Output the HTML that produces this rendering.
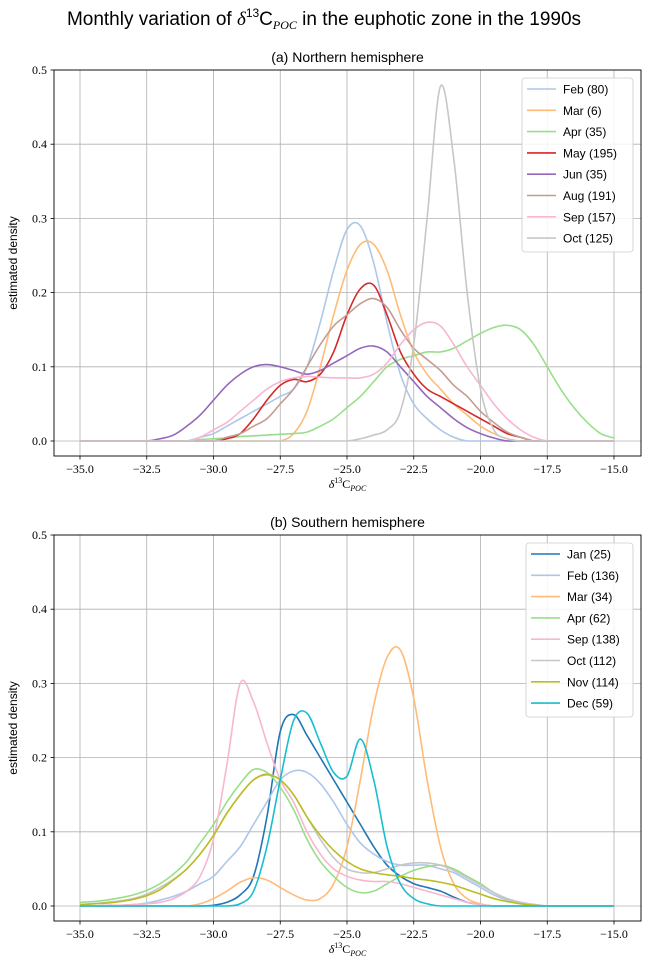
<!DOCTYPE html>
<html><head><meta charset="utf-8"><style>
body{margin:0;background:#fff;}
svg{display:block;}
.t{font-family:"Liberation Serif",serif;font-size:12px;fill:#000;}
.s{font-family:"Liberation Sans",sans-serif;fill:#000;}
</style></head><body>
<svg id="fig" width="648" height="965" xmlns="http://www.w3.org/2000/svg">
<text class="s" x="324" y="25" font-size="19" text-anchor="middle">Monthly variation of <tspan font-style="italic" font-family="Liberation Serif">δ</tspan><tspan font-size="12" dy="-8">13</tspan><tspan dy="8">C</tspan><tspan font-size="12" dy="4" font-style="italic" font-family="Liberation Serif">POC</tspan><tspan dy="-4"> in the euphotic zone in the 1990s</tspan></text>
</svg>
<script>
const xs = [];
for (let i = 0; i <= 40; i++) xs.push(-35 + 0.5 * i);
const xTicks = [-35, -32.5, -30, -27.5, -25, -22.5, -20, -17.5, -15];
const yTicks = [0, 0.1, 0.2, 0.3, 0.4, 0.5];

const nLabels = ["Feb (80)","Mar (6)","Apr (35)","May (195)","Jun (35)","Aug (191)","Sep (157)","Oct (125)"];
const nColors = ["#aec7e8","#ffbb78","#98df8a","#d62728","#9467bd","#c49c94","#f7b6d2","#c7c7c7"];
const nFeb = [0,0,0,0,0,0,0,0,0,.005,.01,.02,.03,.04,.05,.06,.07,.10,.16,.23,.285,.29,.24,.16,.09,.05,.03,.015,.005,0,0,0,0,0,0,0,0,0,0,0,0];
const nMar = [0,0,0,0,0,0,0,0,0,0,0,0,0,0,0,0,.01,.04,.10,.17,.23,.265,.265,.23,.17,.12,.09,.07,.05,.035,.02,.01,.003,0,0,0,0,0,0,0,0];
const nApr = [0,0,0,0,0,0,0,0,0,.002,.003,.004,.006,.007,.008,.009,.01,.012,.02,.03,.045,.06,.08,.10,.11,.115,.12,.12,.125,.135,.145,.153,.156,.15,.13,.10,.07,.045,.025,.01,.004];
const nMay = [0,0,0,0,0,0,0,0,0,0,0,.003,.01,.03,.055,.075,.083,.08,.09,.12,.17,.205,.21,.17,.12,.09,.07,.06,.05,.04,.03,.02,.01,.005,0,0,0,0,0,0,0];
const nJun = [0,0,0,0,0,0,.003,.008,.02,.035,.055,.075,.09,.10,.103,.10,.095,.09,.095,.105,.115,.125,.128,.12,.10,.08,.06,.045,.03,.018,.01,.004,0,0,0,0,0,0,0,0,0];
const nAug = [0,0,0,0,0,0,0,0,0,0,0,.005,.01,.02,.03,.05,.07,.10,.13,.155,.17,.185,.192,.18,.15,.125,.11,.095,.075,.06,.04,.025,.012,.005,0,0,0,0,0,0,0];
const nSep = [0,0,0,0,0,0,0,0,0,.005,.015,.025,.04,.055,.07,.08,.085,.087,.086,.085,.085,.085,.09,.105,.13,.15,.16,.155,.13,.10,.075,.05,.03,.015,.005,0,0,0,0,0,0];
const nOct = [0,0,0,0,0,0,0,0,0,0,0,0,0,0,0,0,0,0,0,0,0,.003,.008,.015,.04,.13,.30,.478,.38,.20,.07,.015,.003,0,0,0,0,0,0,0,0];

const sLabels = ["Jan (25)","Feb (136)","Mar (34)","Apr (62)","Sep (138)","Oct (112)","Nov (114)","Dec (59)"];
const sColors = ["#1f77b4","#aec7e8","#ffbb78","#98df8a","#f7b6d2","#c7c7c7","#bcbd22","#17becf"];
const sJan = [0,0,0,0,0,0,0,0,0,0,.001,.005,.015,.04,.12,.235,.258,.23,.20,.17,.14,.11,.08,.055,.04,.03,.025,.02,.012,.005,.002,0,0,0,0,0,0,0,0,0,0];
const sFeb = [0,0,.001,.001,.002,.004,.008,.013,.02,.03,.04,.06,.08,.11,.14,.17,.182,.18,.165,.14,.11,.085,.07,.06,.055,.055,.055,.05,.045,.035,.025,.015,.008,.004,.002,0,0,0,0,0,0];
const sMar = [0,0,0,0,0,0,0,0,0,.003,.01,.02,.032,.038,.035,.025,.015,.008,.01,.03,.08,.17,.27,.335,.345,.28,.17,.08,.03,.01,.003,0,0,0,0,0,0,0,0,0,0];
const sApr = [.005,.006,.008,.011,.015,.021,.03,.043,.06,.085,.11,.14,.165,.184,.18,.16,.13,.09,.06,.04,.025,.018,.02,.03,.04,.048,.053,.055,.05,.04,.03,.018,.01,.005,.002,0,0,0,0,0,0];
const sSep = [0,0,.001,.001,.002,.003,.005,.01,.02,.04,.09,.19,.30,.275,.22,.17,.14,.10,.07,.05,.04,.035,.033,.033,.03,.025,.02,.015,.01,.005,.002,0,0,0,0,0,0,0,0,0,0];
const sOct = [.002,.003,.005,.007,.01,.016,.025,.036,.05,.07,.095,.125,.15,.17,.178,.17,.15,.12,.09,.065,.05,.045,.045,.05,.055,.058,.058,.055,.048,.038,.028,.018,.01,.005,.002,0,0,0,0,0,0];
const sNov = [.002,.003,.004,.006,.009,.014,.022,.035,.05,.07,.095,.125,.15,.17,.177,.17,.15,.12,.095,.075,.06,.05,.045,.042,.04,.037,.035,.032,.028,.022,.016,.01,.006,.003,.001,0,0,0,0,0,0];
const sDec = [0,0,0,0,0,0,0,0,0,0,0,0,.003,.02,.08,.17,.25,.26,.22,.18,.175,.225,.17,.08,.03,.01,.003,0,0,0,0,0,0,0,0,0,0,0,0,0,0];

const NS = "http://www.w3.org/2000/svg";
const fig = document.getElementById('fig');
function el(tag, attrs, parent){const e=document.createElementNS(NS,tag);for(const k in attrs)e.setAttribute(k,attrs[k]);(parent||fig).appendChild(e);return e;}

function smoothPath(px, py, yBase){
  const n=px.length;
  let p="M"+px[0].toFixed(2)+","+py[0].toFixed(2);
  for(let i=0;i<n-1;i++){
    const p0y=py[Math.max(0,i-1)], p3y=py[Math.min(n-1,i+2)];
    const p0x=px[Math.max(0,i-1)], p3x=px[Math.min(n-1,i+2)];
    let c1x=px[i]+(px[i+1]-p0x)/6, c1y=py[i]+(py[i+1]-p0y)/6;
    let c2x=px[i+1]-(p3x-px[i])/6, c2y=py[i+1]-(p3y-py[i])/6;
    c1y=Math.min(c1y,yBase); c2y=Math.min(c2y,yBase);
    p+=" C"+c1x.toFixed(2)+","+c1y.toFixed(2)+" "+c2x.toFixed(2)+","+c2y.toFixed(2)+" "+px[i+1].toFixed(2)+","+py[i+1].toFixed(2);
  }
  return p;
}

function panel(cfg){
  const L=54,R=641,T=cfg.top,B=cfg.top+386;
  const xS=v=>80+(v+35)*26.7;
  const yS=v=>(T+371)-v*742;
  const g=el('g',{});
  
  
  const grid=el('g',{},g);
  
  
  xTicks.forEach(v=>{
    const x=xS(v);
    const ln=el('line',{x1:x,x2:x,y1:T,y2:B,stroke:'#b0b0b0','stroke-width':0.8},grid);
    
    
    el('line',{x1:x,x2:x,y1:B,y2:B+3.5,stroke:'#000','stroke-width':0.8},g);
    const t=el('text',{x:x,y:B+17,'text-anchor':'middle',class:'t'},g);
    t.textContent=(v<0?'\u2212':'')+Math.abs(v).toFixed(1);
    
    
  });
  yTicks.forEach(v=>{
    const y=yS(v);
    const ln=el('line',{x1:L,x2:R,y1:y,y2:y,stroke:'#b0b0b0','stroke-width':0.8},grid);
    
    
    el('line',{x1:L-3.5,x2:L,y1:y,y2:y,stroke:'#000','stroke-width':0.8},g);
    const t=el('text',{x:L-7,y:y+4,'text-anchor':'end',class:'t'},g);
    t.textContent=v.toFixed(1);
    
    
  });
  cfg.series.forEach((vals,i)=>{
    const p=el('path',{d:smoothPath(xs.map(xS),vals.map(yS),yS(0)),fill:'none',stroke:cfg.colors[i],'stroke-width':1.6},g);
    
    
  });
  const fr=el('rect',{x:L,y:T,width:R-L,height:B-T,fill:'none',stroke:'#000','stroke-width':0.9},g);
  
  
  const tt=el('text',{x:(L+R)/2,y:T-8,'text-anchor':'middle',class:'s','font-size':14},g);
  tt.textContent=cfg.title;
  
  
  const yl=el('text',{x:0,y:0,'text-anchor':'middle',class:'s','font-size':12,transform:'translate(17,'+((T+B)/2)+') rotate(-90)'},g);
  yl.textContent='estimated density';
  
  
  const xl=el('text',{x:(L+R)/2,y:B+32,'text-anchor':'middle',class:'t','font-size':12},g);
  xl.innerHTML='<tspan font-style="italic">δ</tspan><tspan font-size="8" dy="-5">13</tspan><tspan dy="5">C</tspan><tspan font-size="8" dy="3" font-style="italic">POC</tspan>';
  
  
  const lg=el('g',{},g);
  
  
  el('rect',{x:cfg.lx,y:T+8,width:633-cfg.lx,height:174,rx:3,fill:'#fff','fill-opacity':0.85,stroke:'#ccc','stroke-width':0.8},lg);
  cfg.labels.forEach((lab,i)=>{
    const y=T+19+i*21.3;
    const e=el('g',{},lg);
    
    
    el('line',{x1:cfg.lx+5,x2:cfg.lx+34,y1:y,y2:y,stroke:cfg.colors[i],'stroke-width':1.6},e);
    const t=el('text',{x:cfg.lx+41,y:y+4.5,class:'s','font-size':12},e);
    t.textContent=lab;
  });
}
panel({name:'northern-hemisphere-panel',top:70,title:'(a) Northern hemisphere',lx:522,labels:nLabels,colors:nColors,series:[nFeb,nMar,nApr,nMay,nJun,nAug,nSep,nOct]});
panel({name:'southern-hemisphere-panel',top:535,title:'(b) Southern hemisphere',lx:526,labels:sLabels,colors:sColors,series:[sJan,sFeb,sMar,sApr,sSep,sOct,sNov,sDec]});
</script>
</body></html>
